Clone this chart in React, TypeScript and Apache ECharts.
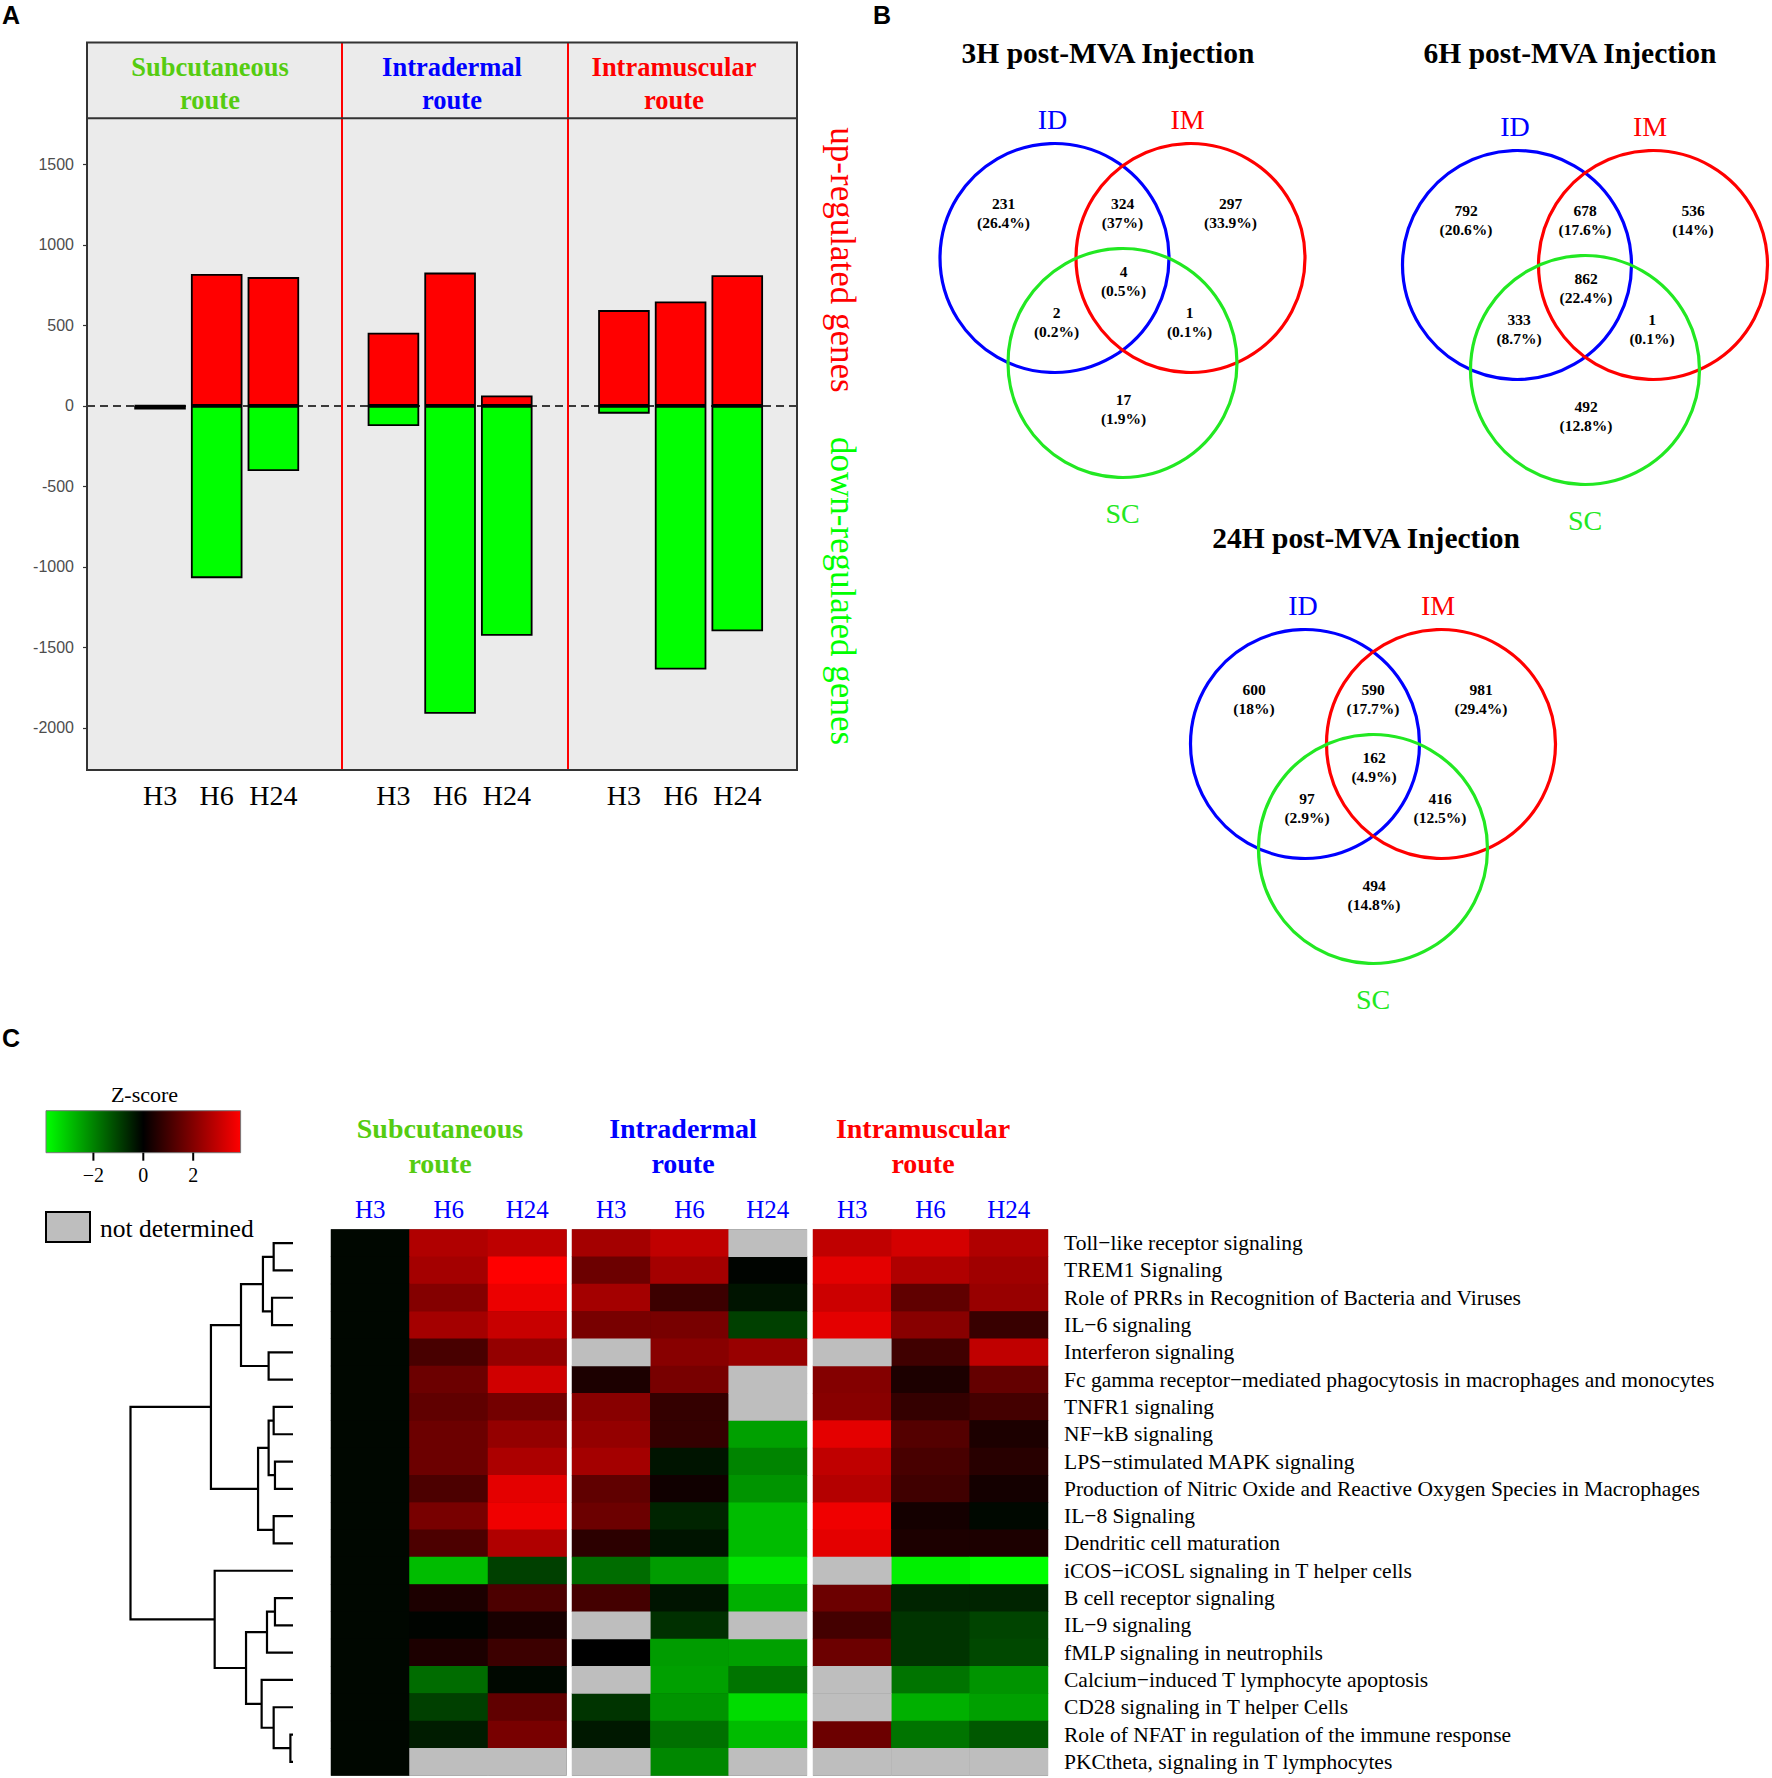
import React, { useEffect, useRef } from 'react';
import * as echarts from 'echarts';

// ---------------- DATA ----------------
const timepoints = ['H3', 'H6', 'H24'];
const routeNames = ['Subcutaneous\nroute', 'Intradermal\nroute', 'Intramuscular\nroute'];

// Panel A: number of up / down regulated genes
const upSC = [3, 820, 800];
const downSC = [-22, -1070, -405];
const upID = [455, 828, 65];
const downID = [-125, -1912, -1428];
const upIM = [595, 648, 812];
const downIM = [-48, -1638, -1400];
const yTicksA = [-2000, -1500, -1000, -500, 0, 500, 1000, 1500];

// Panel B: Venn counts (ID only, ID&IM, IM only, all, ID&SC, IM&SC, SC only)
const venn3H = [231, 324, 297, 4, 2, 1, 17];
const pct3H = ['26.4%', '37%', '33.9%', '0.5%', '0.2%', '0.1%', '1.9%'];
const venn6H = [792, 678, 536, 862, 333, 1, 492];
const pct6H = ['20.6%', '17.6%', '14%', '22.4%', '8.7%', '0.1%', '12.8%'];
const venn24H = [600, 590, 981, 162, 97, 416, 494];
const pct24H = ['18%', '17.7%', '29.4%', '4.9%', '2.9%', '12.5%', '14.8%'];
const vennTitles = ['3H post-MVA Injection', '6H post-MVA Injection', '24H post-MVA Injection'];
const vennSets = ['ID', 'IM', 'SC'];

// Panel C: pathways and z-scores (null = not determined)
const pathways = [
  'Toll\u2212like receptor signaling',
  'TREM1 Signaling',
  'Role of PRRs in Recognition of Bacteria and Viruses',
  'IL\u22126 signaling',
  'Interferon signaling',
  'Fc gamma receptor\u2212mediated phagocytosis in macrophages and monocytes',
  'TNFR1 signaling',
  'NF\u2212kB signaling',
  'LPS\u2212stimulated MAPK signaling',
  'Production of Nitric Oxide and Reactive Oxygen Species in Macrophages',
  'IL\u22128 Signaling',
  'Dendritic cell maturation',
  'iCOS\u2212iCOSL signaling in T helper cells',
  'B cell receptor signaling',
  'IL\u22129 signaling',
  'fMLP signaling in neutrophils',
  'Calcium\u2212induced T lymphocyte apoptosis',
  'CD28 signaling in T helper Cells',
  'Role of NFAT in regulation of the immune response',
  'PKCtheta, signaling in T lymphocytes',
];
const zSC = [
  [-0.1, 2.69, 2.91], [-0.1, 2.51, 3.9], [-0.1, 2.02, 3.61], [-0.1, 2.51, 3.06],
  [-0.1, 1.1, 2.26], [-0.1, 1.65, 3.18], [-0.1, 1.47, 1.77], [-0.1, 1.65, 2.26],
  [-0.1, 1.65, 2.63], [-0.1, 1.16, 3.49], [-0.1, 1.84, 3.67], [-0.1, 1.16, 2.69],
  [-0.1, -2.88, -0.98], [-0.1, 0.43, 1.16], [-0.1, -0.06, 0.37], [-0.1, 0.43, 0.92],
  [-0.1, -1.65, -0.12], [-0.1, -0.98, 1.47], [-0.1, -0.43, 1.84], [-0.1, null, null],
];
const zID = [
  [2.51, 2.94, null], [1.65, 2.51, -0.06], [2.51, 0.92, -0.31], [1.84, 1.84, -0.98],
  [null, 2.08, 2.32], [0.43, 1.84, null], [2.08, 0.8, null], [2.26, 0.8, -2.45],
  [2.51, -0.31, -2.02], [1.47, 0.24, -2.26], [1.65, -0.55, -2.88], [0.67, -0.31, -2.88],
  [-1.65, -2.39, -3.49], [1.04, -0.31, -2.69], [null, -0.73, null], [0.0, -2.39, -2.45],
  [null, -2.45, -1.77], [-0.8, -2.26, -3.36], [-0.37, -1.71, -2.88], [null, -2.08, null],
];
const zIM = [
  [2.94, 3.24, 2.69], [3.49, 2.69, 2.45], [3.12, 1.47, 2.32], [3.49, 2.08, 0.86],
  [null, 0.98, 2.94], [2.02, 0.43, 1.53], [2.08, 0.8, 1.04], [3.49, 1.28, 0.43],
  [2.94, 1.1, 0.61], [2.75, 0.98, 0.31], [3.67, 0.31, -0.12], [3.49, 0.43, 0.43],
  [null, -3.67, -3.9], [1.65, -0.55, -0.55], [1.04, -0.8, -1.04], [1.65, -0.8, -1.1],
  [null, -1.77, -2.26], [null, -2.69, -2.45], [1.65, -1.77, -1.35], [null, null, null],
];
const zTicks = [-2, 0, 2];
const zMin = -3.9;
const zMax = 3.9;

// Dendrogram merges (hclust style: negative = leaf row, positive = earlier merge), height
const merges: [number, number, number][] = [
  [-1, -2, 0.119], [-3, -4, 0.129], [1, 2, 0.185], [-5, -6, 0.15], [3, 4, 0.32],
  [-7, -8, 0.119], [-9, -10, 0.111], [6, 7, 0.15], [-11, -12, 0.119], [8, 9, 0.215],
  [5, 10, 0.505], [-14, -15, 0.111], [12, -16, 0.16], [-19, -20, 0.016], [-18, 14, 0.119],
  [-17, 15, 0.193], [13, 16, 0.289], [-13, 17, 0.482], [11, 18, 1.0],
];

// ---------------- STYLE / LAYOUT ----------------
const SERIF = '"Liberation Serif", "Times New Roman", serif';
const SANS = '"Liberation Sans", Arial, sans-serif';
const GREEN_T = '#55CC11';
const BLUE = '#0000FF';
const RED = '#FF0000';
const routeColors = [GREEN_T, BLUE, RED];

function buildOption() {
  // Panel A layout
  const aL = 87, aR = 797, aT = 42.5, aStrip = 118.2, aB = 770, zeroY = 405.9, px500 = 80.5;
  const yMax = ((zeroY - aStrip) / px500) * 500;
  const yMin = -((aB - zeroY) / px500) * 500;
  const barLefts = [131.7, 365.1, 595.6];
  const barW = 170;
  const facetX = [342, 568];
  const stripCenters = [210, 452, 674];

  // Panel C layout
  const hTop = 1229.5, hH = 546;
  const heatLefts = [331, 572, 813];
  const heatWidths = [235.5, 235, 235];
  const dendL = 130.5, dendW = 162.5;

  const grids: any[] = [
    { left: aL, top: aStrip, width: aR - aL, height: aB - aStrip, show: true, backgroundColor: '#EBEBEB', borderWidth: 0 },
  ];
  barLefts.forEach((l) => grids.push({ left: l, top: aStrip, width: barW, height: aB - aStrip }));
  heatLefts.forEach((l, i) => grids.push({ left: l, top: hTop, width: heatWidths[i], height: hH, show: true, backgroundColor: '#000', borderWidth: 0 }));
  grids.push({ left: dendL, top: hTop, width: dendW, height: hH });

  const xAxes: any[] = [{ gridIndex: 0, type: 'value', min: 0, max: 1, show: false }];
  const yAxes: any[] = [
    {
      gridIndex: 0, type: 'value', min: yMin, max: yMax, offset: 5,
      axisLine: { show: false },
      splitLine: { show: false },
      axisTick: { show: true, length: 4, lineStyle: { color: '#333', width: 1.2 }, customValues: yTicksA },
      axisLabel: {
        customValues: yTicksA, color: '#4D4D4D', fontSize: 16, fontFamily: SANS, margin: 8,
        formatter: (v: number) => (yTicksA.indexOf(v) >= 0 ? String(v) : ''),
      },
    },
  ];
  for (let i = 0; i < 3; i++) {
    xAxes.push({
      gridIndex: i + 1, type: 'category', data: timepoints,
      axisLine: { show: false }, axisTick: { show: false },
      axisLabel: { interval: 0, fontSize: 28, fontFamily: SERIF, color: '#000', margin: 11 },
    });
    yAxes.push({ gridIndex: i + 1, type: 'value', min: yMin, max: yMax, show: false });
  }
  for (let i = 0; i < 3; i++) {
    xAxes.push({
      gridIndex: i + 4, type: 'category', data: timepoints, position: 'top',
      axisLine: { show: false }, axisTick: { show: false }, splitLine: { show: false },
      axisLabel: { interval: 0, fontSize: 25, fontFamily: SERIF, color: BLUE, margin: 8 },
    });
    yAxes.push({
      gridIndex: i + 4, type: 'category', data: pathways, inverse: true,
      show: i === 2, position: 'right',
      axisLine: { show: false }, axisTick: { show: false }, splitLine: { show: false },
      axisLabel: { interval: 0, fontSize: 21.5, fontFamily: SERIF, color: '#000', margin: 16 },
    });
  }
  xAxes.push({ gridIndex: 7, type: 'value', min: 0, max: 1, inverse: true, show: false });
  yAxes.push({ gridIndex: 7, type: 'value', min: -0.5, max: pathways.length - 0.5, inverse: true, show: false });

  const series: any[] = [];
  // zero dashed line
  series.push({
    type: 'line', xAxisIndex: 0, yAxisIndex: 0, data: [], silent: true, z: 6,
    markLine: {
      symbol: 'none', silent: true, label: { show: false },
      lineStyle: { type: [8, 5], color: '#000', width: 1.6 },
      data: [{ yAxis: 0 }],
    },
  });
  const ups = [upSC, upID, upIM];
  const downs = [downSC, downID, downIM];
  for (let i = 0; i < 3; i++) {
    series.push({
      type: 'bar', xAxisIndex: i + 1, yAxisIndex: i + 1, data: ups[i], barWidth: '91%', barGap: '-100%',
      itemStyle: { color: '#FF0000', borderColor: '#000', borderWidth: 1.8 }, z: 3,
    });
    series.push({
      type: 'bar', xAxisIndex: i + 1, yAxisIndex: i + 1, data: downs[i], barWidth: '91%', barGap: '-100%',
      itemStyle: { color: '#00FF00', borderColor: '#000', borderWidth: 1.8 }, z: 3,
    });
  }
  // heatmaps
  const zs = [zSC, zID, zIM];
  const mainIdx: number[] = [];
  const ndIdx: number[] = [];
  for (let g = 0; g < 3; g++) {
    const vals: any[] = [];
    const nd: any[] = [];
    zs[g].forEach((row, r) => row.forEach((v, c) => {
      if (v === null) nd.push([c, r, 1]);
      else vals.push([c, r, v]);
    }));
    mainIdx.push(series.length);
    series.push({ type: 'heatmap', xAxisIndex: g + 4, yAxisIndex: g + 4, data: vals, silent: true });
    ndIdx.push(series.length);
    series.push({ type: 'heatmap', xAxisIndex: g + 4, yAxisIndex: g + 4, data: nd, silent: true });
  }
  // dendrogram
  const nodeY: number[] = [];
  const nodeH: number[] = [];
  const pos = (id: number) => (id < 0 ? -id - 1 : nodeY[id - 1]);
  const hgt = (id: number) => (id < 0 ? 0 : nodeH[id - 1]);
  const dendData: number[][] = [];
  merges.forEach(([a, b, h]) => {
    const ya = pos(a), yb = pos(b);
    dendData.push([h, ya, hgt(a), yb, hgt(b)]);
    nodeY.push((ya + yb) / 2);
    nodeH.push(h);
  });
  series.push({
    type: 'custom', xAxisIndex: 7, yAxisIndex: 7, data: dendData, silent: true,
    encode: { x: [0, 2, 4], y: [1, 3] },
    renderItem: (_p: any, api: any) => {
      const h = api.value(0), yl = api.value(1), hl = api.value(2), yr = api.value(3), hr = api.value(4);
      return {
        type: 'polyline',
        shape: { points: [api.coord([hl, yl]), api.coord([h, yl]), api.coord([h, yr]), api.coord([hr, yr])] },
        style: { stroke: '#000', lineWidth: 2.2, fill: null },
      };
    },
  });

  // ---------------- graphics ----------------
  const txt = (text: string, x: number, y: number, o: any = {}) => ({
    type: 'text', x, y, z: 20, rotation: o.rotation || 0, silent: true,
    style: {
      text, fill: o.color || '#000', fontSize: o.size || 20, fontFamily: o.family || SERIF,
      fontWeight: o.weight || 'normal', lineHeight: o.lineHeight,
      align: o.align || 'center', verticalAlign: 'middle',
      textAlign: o.align || 'center', textVerticalAlign: 'middle',
    },
  });
  const els: any[] = [];
  // panel labels
  els.push(txt('A', 11, 15, { size: 25, family: SANS, weight: 'bold' }));
  els.push(txt('B', 882, 15, { size: 25, family: SANS, weight: 'bold' }));
  els.push(txt('C', 11, 1038, { size: 25, family: SANS, weight: 'bold' }));

  // panel A strip, border, separators
  els.push({ type: 'rect', z: 1, silent: true, shape: { x: aL, y: aT, width: aR - aL, height: aStrip - aT }, style: { fill: '#EBEBEB' } });
  els.push({ type: 'line', z: 15, silent: true, shape: { x1: aL, y1: aStrip, x2: aR, y2: aStrip }, style: { stroke: '#333', lineWidth: 2 } });
  facetX.forEach((x) => els.push({ type: 'line', z: 14, silent: true, shape: { x1: x, y1: aT, x2: x, y2: aB }, style: { stroke: RED, lineWidth: 2 } }));
  els.push({ type: 'rect', z: 16, silent: true, shape: { x: aL, y: aT, width: aR - aL, height: aB - aT }, style: { fill: 'none', stroke: '#333', lineWidth: 2 } });
  routeNames.forEach((n, i) => els.push(txt(n, stripCenters[i], 83.5, { size: 26.5, weight: 'bold', color: routeColors[i], lineHeight: 33 })));
  els.push(txt('up-regulated genes', 842, 260, { size: 35, color: RED, rotation: -Math.PI / 2 }));
  els.push(txt('down-regulated genes', 842, 591, { size: 35, color: '#00FF00', rotation: -Math.PI / 2 }));

  // panel B venns
  const vennCenters = [[1122.5, 258], [1585, 265], [1373, 744]];
  const vennTitlePos = [[1108, 53], [1570, 53], [1366, 538]];
  const circleOff = [[-68, 0], [68, 0], [0, 105]];
  const circleCol = [BLUE, RED, '#22E822'];
  const labelOff = [[-70, -139], [65, -139], [0, 255]];
  const regionOff = [[-119, -45], [0, -45], [108, -45], [1, 23], [-66, 64], [67, 64], [1, 151]];
  const counts = [venn3H, venn6H, venn24H];
  const pcts = [pct3H, pct6H, pct24H];
  vennCenters.forEach(([cx, cy], v) => {
    els.push(txt(vennTitles[v], vennTitlePos[v][0], vennTitlePos[v][1], { size: 29.5, weight: 'bold' }));
    circleOff.forEach(([dx, dy], k) => {
      els.push({ type: 'circle', z: 10, silent: true, shape: { cx: cx + dx, cy: cy + dy, r: 114.5 }, style: { fill: 'none', stroke: circleCol[k], lineWidth: 3.2 } });
      els.push(txt(vennSets[k], cx + labelOff[k][0], cy + labelOff[k][1], { size: 28, color: circleCol[k] }));
    });
    regionOff.forEach(([dx, dy], k) => {
      els.push(txt(String(counts[v][k]) + '\n(' + pcts[v][k] + ')', cx + dx, cy + dy, { size: 15.5, weight: 'bold', lineHeight: 19 }));
    });
  });

  // panel C legend
  const cbX = 46, cbY = 1110.7, cbW = 194.6, cbH = 42;
  els.push(txt('Z-score', 144.5, 1094, { size: 22 }));
  els.push({
    type: 'rect', z: 10, silent: true, shape: { x: cbX, y: cbY, width: cbW, height: cbH },
    style: {
      fill: new echarts.graphic.LinearGradient(0, 0, 1, 0, [
        { offset: 0, color: '#00FF00' }, { offset: 0.5, color: '#000000' }, { offset: 1, color: '#FF0000' },
      ]),
      stroke: '#777', lineWidth: 1,
    },
  });
  zTicks.forEach((t) => {
    const x = cbX + ((t - zMin) / (zMax - zMin)) * cbW;
    els.push({ type: 'line', z: 11, silent: true, shape: { x1: x, y1: cbY + cbH, x2: x, y2: cbY + cbH + 8 }, style: { stroke: '#000', lineWidth: 2 } });
    els.push(txt(t < 0 ? '\u2212' + Math.abs(t) : String(t), x, 1175, { size: 20 }));
  });
  els.push({ type: 'rect', z: 10, silent: true, shape: { x: 46, y: 1212, width: 44, height: 30 }, style: { fill: '#BEBEBE', stroke: '#000', lineWidth: 2 } });
  els.push(txt('not determined', 100, 1228, { size: 25.5, align: 'left' }));
  const heatTitleX = [440, 683, 923];
  routeNames.forEach((n, i) => els.push(txt(n, heatTitleX[i], 1145.5, { size: 28, weight: 'bold', color: routeColors[i], lineHeight: 35 })));

  return {
    animation: false,
    backgroundColor: '#FFFFFF',
    grid: grids,
    xAxis: xAxes,
    yAxis: yAxes,
    visualMap: [
      {
        type: 'continuous', show: false, min: zMin, max: zMax, dimension: 2, seriesIndex: mainIdx,
        inRange: { color: ['#00FF00', '#000000', '#FF0000'] },
      },
      {
        type: 'continuous', show: false, min: 0, max: 2, dimension: 2, seriesIndex: ndIdx,
        inRange: { color: ['#BEBEBE', '#BEBEBE'] },
      },
    ],
    series,
    graphic: { elements: els },
  };
}

export default function App() {
  const ref = useRef<HTMLDivElement>(null);
  useEffect(() => {
    const chart = echarts.init(ref.current as HTMLDivElement, null, { renderer: 'svg' });
    chart.setOption(buildOption() as any);
    return () => chart.dispose();
  }, []);
  return <div ref={ref} style={{ position: 'absolute', left: 0, top: 0, width: 1772, height: 1778, background: '#fff' }} />;
}
